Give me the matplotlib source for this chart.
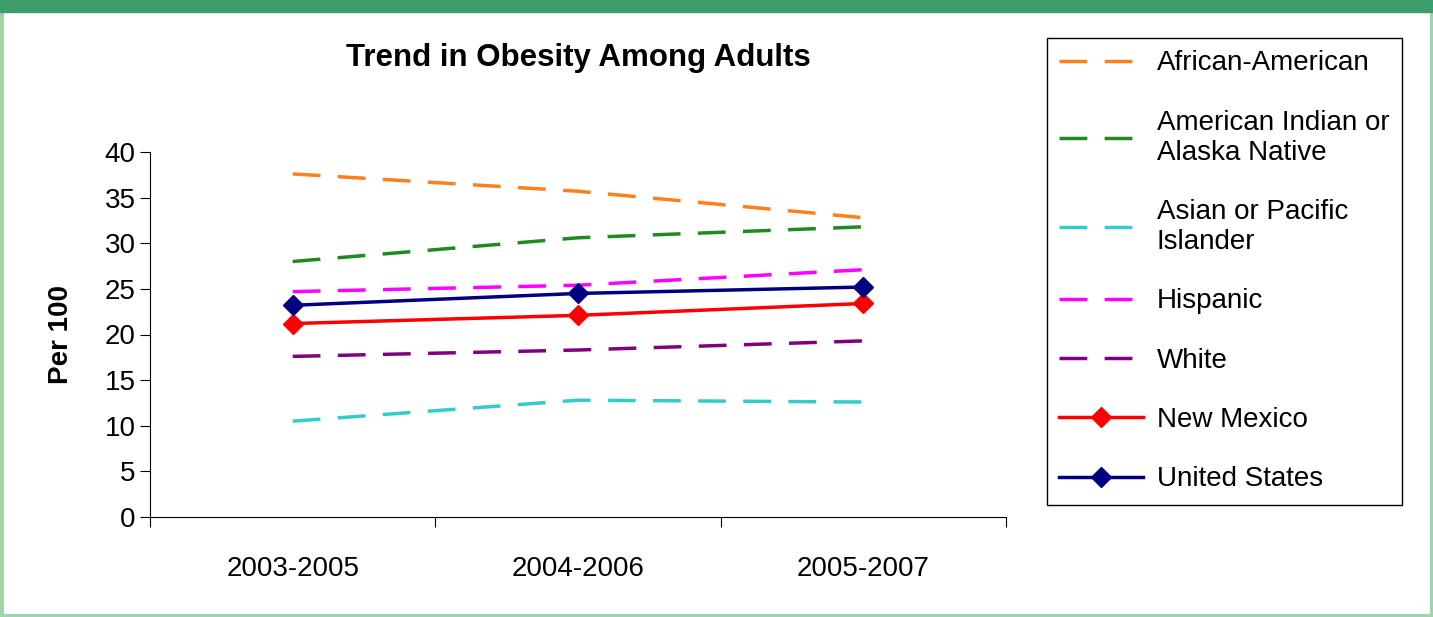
import matplotlib.pyplot as plt
from matplotlib.patches import Rectangle

periods = ["2003-2005", "2004-2006", "2005-2007"]
african_american = [37.6, 35.7, 32.8]
american_indian = [28.0, 30.6, 31.8]
asian_pacific = [10.5, 12.8, 12.6]
hispanic = [24.7, 25.4, 27.1]
white = [17.6, 18.3, 19.3]
new_mexico = [21.2, 22.1, 23.4]
united_states = [23.2, 24.5, 25.2]

plt.rcParams['font.family'] = ['Liberation Sans', 'DejaVu Sans']

fig = plt.figure(figsize=(14.33, 6.17), dpi=100)
# green frame
fig.patches.append(Rectangle((0, 0), 1, 1, transform=fig.transFigure, fill=False,
                             edgecolor='#9fd3a8', linewidth=5, zorder=0))
fig.patches.append(Rectangle((0, 1 - 12 / 617), 1, 12 / 617, transform=fig.transFigure,
                             color='#3d9e6b', zorder=0))

ax = fig.add_axes([150 / 1433, 1 - 517 / 617, 856 / 1433, 365 / 617])
x = [0.5, 1.5, 2.5]
dash = (0, (8, 5))
ax.plot(x, african_american, color='#ff7f1a', lw=2.5, linestyle=dash, label='African-American')
ax.plot(x, american_indian, color='#1f8a1f', lw=2.5, linestyle=dash, label='American Indian or\nAlaska Native')
ax.plot(x, asian_pacific, color='#33cccc', lw=2.5, linestyle=dash, label='Asian or Pacific\nIslander')
ax.plot(x, hispanic, color='#ff00ff', lw=2.5, linestyle=dash, label='Hispanic')
ax.plot(x, white, color='#800080', lw=2.5, linestyle=dash, label='White')
ax.plot(x, new_mexico, color='#ff0000', lw=2.5, marker='D', markersize=10, label='New Mexico')
ax.plot(x, united_states, color='#000080', lw=2.5, marker='D', markersize=10, label='United States')

ax.set_xlim(0, 3)
ax.set_ylim(0, 40)
ax.set_yticks(range(0, 41, 5))
ax.set_xticks([0, 1, 2, 3])
ax.set_xticklabels([])
ax.set_xticks(x, minor=True)
ax.set_xticklabels(periods, minor=True, fontsize=20)
ax.tick_params(axis='x', which='minor', length=0, pad=28)
ax.tick_params(axis='x', which='major', length=7, direction='out')
ax.tick_params(axis='y', labelsize=20, length=7)
for s in ['top', 'right']:
    ax.spines[s].set_visible(False)
ax.set_ylabel('Per 100', fontsize=20, fontweight='bold', labelpad=22)
ax.set_title('Trend in Obesity Among Adults', fontsize=22.5, fontweight='bold', pad=62)

leg = fig.legend(loc='upper left', bbox_to_anchor=(1033 / 1433, 1 - 24 / 617),
                 fontsize=20, handlelength=3.0, labelspacing=1.2, borderpad=0.45,
                 handletextpad=0.5, fancybox=False, edgecolor='black', framealpha=1)
leg.get_frame().set_linewidth(1)

fig.savefig('out.png')
